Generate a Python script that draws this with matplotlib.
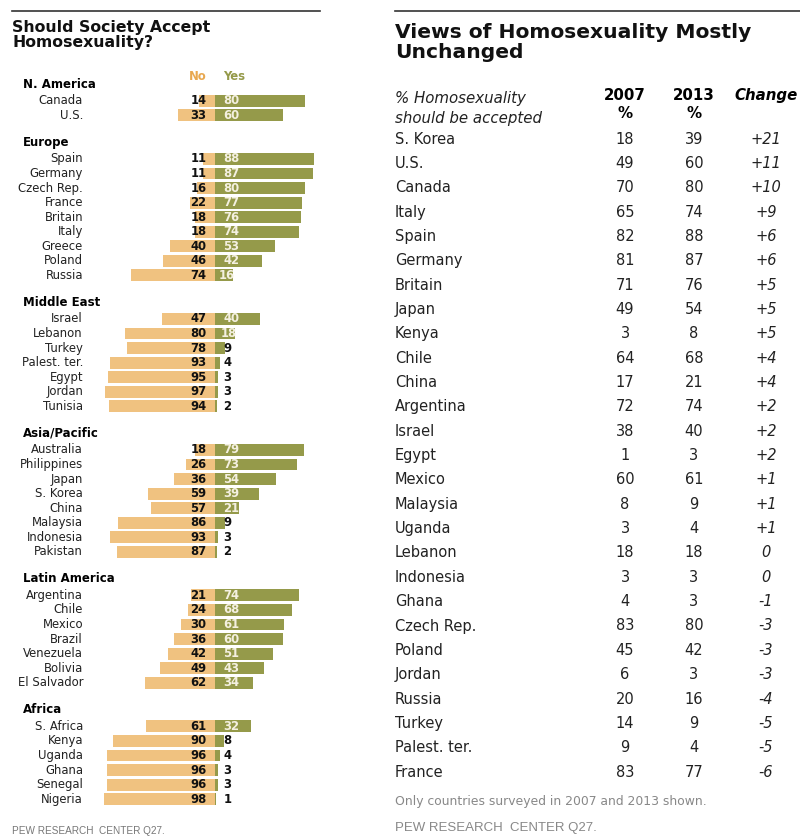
import matplotlib
matplotlib.use("Agg")
import matplotlib.pyplot as plt
from matplotlib.lines import Line2D

# left panel data: region -> (countries, no, yes)
regions = ["N. America", "Europe", "Middle East", "Asia/Pacific", "Latin America", "Africa"]
na_countries = ["Canada", "U.S."]
na_no = [14, 33]
na_yes = [80, 60]
eu_countries = ["Spain", "Germany", "Czech Rep.", "France", "Britain", "Italy", "Greece", "Poland", "Russia"]
eu_no = [11, 11, 16, 22, 18, 18, 40, 46, 74]
eu_yes = [88, 87, 80, 77, 76, 74, 53, 42, 16]
me_countries = ["Israel", "Lebanon", "Turkey", "Palest. ter.", "Egypt", "Jordan", "Tunisia"]
me_no = [47, 80, 78, 93, 95, 97, 94]
me_yes = [40, 18, 9, 4, 3, 3, 2]
ap_countries = ["Australia", "Philippines", "Japan", "S. Korea", "China", "Malaysia", "Indonesia", "Pakistan"]
ap_no = [18, 26, 36, 59, 57, 86, 93, 87]
ap_yes = [79, 73, 54, 39, 21, 9, 3, 2]
la_countries = ["Argentina", "Chile", "Mexico", "Brazil", "Venezuela", "Bolivia", "El Salvador"]
la_no = [21, 24, 30, 36, 42, 49, 62]
la_yes = [74, 68, 61, 60, 51, 43, 34]
af_countries = ["S. Africa", "Kenya", "Uganda", "Ghana", "Senegal", "Nigeria"]
af_no = [61, 90, 96, 96, 96, 98]
af_yes = [32, 8, 4, 3, 3, 1]

# right panel data
tbl_countries = ["S. Korea", "U.S.", "Canada", "Italy", "Spain", "Germany", "Britain", "Japan",
                 "Kenya", "Chile", "China", "Argentina", "Israel", "Egypt", "Mexico", "Malaysia",
                 "Uganda", "Lebanon", "Indonesia", "Ghana", "Czech Rep.", "Poland", "Jordan",
                 "Russia", "Turkey", "Palest. ter.", "France"]
tbl_2007 = [18, 49, 70, 65, 82, 81, 71, 49, 3, 64, 17, 72, 38, 1, 60, 8, 3, 18, 3, 4, 83, 45, 6, 20, 14, 9, 83]
tbl_2013 = [39, 60, 80, 74, 88, 87, 76, 54, 8, 68, 21, 74, 40, 3, 61, 9, 4, 18, 3, 3, 80, 42, 3, 16, 9, 4, 77]
tbl_change = ["+21", "+11", "+10", "+9", "+6", "+6", "+5", "+5", "+5", "+4", "+4", "+2", "+2", "+2",
              "+1", "+1", "+1", "0", "0", "-1", "-3", "-3", "-3", "-4", "-5", "-5", "-6"]

groups = [
    (na_countries, na_no, na_yes),
    (eu_countries, eu_no, eu_yes),
    (me_countries, me_no, me_yes),
    (ap_countries, ap_no, ap_yes),
    (la_countries, la_no, la_yes),
    (af_countries, af_no, af_yes),
]

NO_C = "#F0C280"
YES_C = "#959A4A"
W, H = 800, 840

fig = plt.figure(figsize=(8, 8.4), dpi=100)


def fx(px):
    return px / W


def fy(py):
    return 1 - py / H


# rules and titles
fig.add_artist(Line2D([fx(12), fx(320)], [fy(11), fy(11)], color="#333333", lw=1.2))
fig.add_artist(Line2D([fx(395), 1.0], [fy(11), fy(11)], color="#333333", lw=1.2))
fig.text(fx(12), fy(20), "Should Society Accept\nHomosexuality?", fontsize=11.3,
         fontweight="bold", va="top", ha="left", linespacing=0.98, color="#111111")
fig.text(fx(395), fy(23), "Views of Homosexuality Mostly\nUnchanged", fontsize=14.6,
         fontweight="bold", va="top", ha="left", linespacing=1.08, color="#111111")

# ---- left: diverging bars ----
px_per_unit = 1.13
zero_px = 215
row_px = 14.55
head0_px = 84
ax = fig.add_axes([0, 0, 330 / W, 1])
ax.set_xlim(-zero_px / px_per_unit, (330 - zero_px) / px_per_unit)
ax.set_ylim((H - head0_px) / row_px, -head0_px / row_px)
ax.axis("off")

label_x = (83 - zero_px) / px_per_unit
head_x = (23 - zero_px) / px_per_unit

pos = 0.0
for name, (countries, no, yes) in zip(regions, groups):
    ax.text(head_x, pos, name, fontsize=8.5, fontweight="bold", va="center", ha="left")
    pos += 1.15
    for c, n, y in zip(countries, no, yes):
        ax.barh(pos, -n, height=0.82, color=NO_C, edgecolor="none")
        ax.barh(pos, y, height=0.82, color=YES_C, edgecolor="none")
        ax.text(label_x, pos, c, fontsize=8.4, ha="right", va="center", color="#222222")
        ax.text(-7.5, pos, str(n), fontsize=8.4, fontweight="bold", ha="right", va="center",
                color="#111111")
        if y >= 10:
            ax.text(min(7.5, y - 13), pos, str(y), fontsize=8.4, fontweight="bold", ha="left",
                    va="center", color="#F4F0E0")
        else:
            ax.text(7.5, pos, str(y), fontsize=8.4, fontweight="bold", ha="left", va="center",
                    color="#111111")
        pos += 1.0
    pos += 0.85

ax.text(-7.5, -0.5, "No", fontsize=8.4, fontweight="bold", ha="right", va="center", color="#E8A850")
ax.text(7.5, -0.5, "Yes", fontsize=8.4, fontweight="bold", ha="left", va="center", color="#959A4A")

fig.text(fx(12), fy(831), "PEW RESEARCH  CENTER Q27.", fontsize=7.2, color="#777777",
         va="center", ha="left", family="Liberation Sans")

# ---- right: table ----
tr0 = 139
tstep = 24.35
axt = fig.add_axes([380 / W, 0, 420 / W, 1])
axt.set_xlim(380, 800)
axt.set_ylim((H - tr0) / tstep, -tr0 / tstep)
axt.axis("off")

col_name, col_07, col_13, col_ch = 395, 625, 694, 766
for i, (c, a, b, d) in enumerate(zip(tbl_countries, tbl_2007, tbl_2013, tbl_change)):
    axt.text(col_name, i, c, fontsize=10.5, ha="left", va="center", color="#222222")
    axt.text(col_07, i, str(a), fontsize=10.5, ha="center", va="center", color="#222222")
    axt.text(col_13, i, str(b), fontsize=10.5, ha="center", va="center", color="#222222")
    axt.text(col_ch, i, d, fontsize=10.5, ha="center", va="center", style="italic", color="#222222")

axt.text(col_name, -1.25, "% Homosexuality\nshould be accepted", fontsize=10.8, style="italic",
         ha="left", va="center", color="#222222", linespacing=1.45)
axt.text(col_07, -1.42, "2007\n%", fontsize=10.8, fontweight="bold", ha="center", va="center",
         linespacing=1.2)
axt.text(col_13, -1.42, "2013\n%", fontsize=10.8, fontweight="bold", ha="center", va="center",
         linespacing=1.2)
axt.text(col_ch, -1.8, "Change", fontsize=10.8, fontweight="bold", style="italic",
         ha="center", va="center")

fig.text(fx(395), fy(802), "Only countries surveyed in 2007 and 2013 shown.", fontsize=8.9,
         color="#888888", va="center", ha="left")
fig.text(fx(395), fy(828), "PEW RESEARCH  CENTER Q27.", fontsize=9.5, color="#888888",
         va="center", ha="left", family="Liberation Sans")

fig.savefig("out.png", dpi=100)
